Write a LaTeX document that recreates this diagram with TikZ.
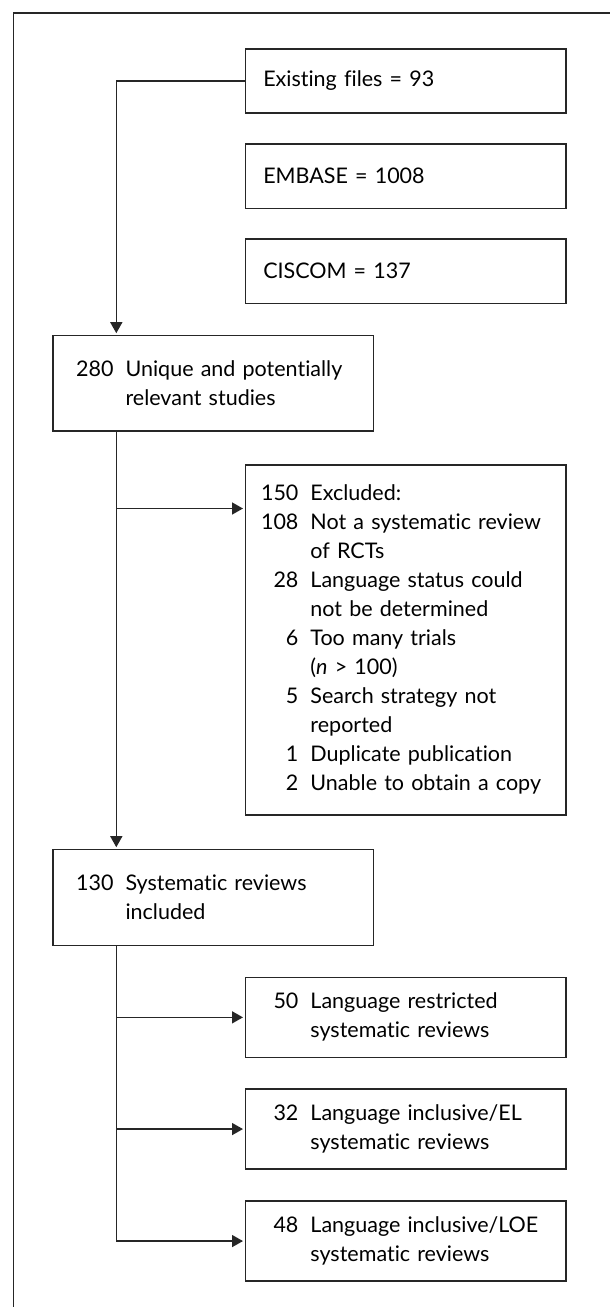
\documentclass[tikz,border=0pt]{standalone}
\usepackage{fontspec}
\setmainfont{Lato}[Ligatures={NoCommon}]
\usetikzlibrary{arrows.meta}
\newcommand\nm[2][53.2pt]{\makebox[#1][r]{#2}\hspace{12pt}}
\newcommand\ind[1][53.2pt]{\hspace*{\dimexpr#1+12pt\relax}}
\begin{document}
\begin{tikzpicture}[x=1pt,y=-1pt,
  box/.style={draw=black!85, line width=1.5pt, inner xsep=0pt, inner ysep=0pt,
    text width=320.5pt, align=left, minimum height=#1, anchor=north west,
    font=\fontsize{21.5}{29}\selectfont},
  conn/.style={draw=black!85, line width=1.5pt},
  arr/.style={conn, -{Triangle[length=11pt,width=12pt]}, shorten >=1.5pt}]
\useasboundingbox (0,0) rectangle (610,1307);
\draw[line width=1.8pt, black!85] (13.5,1307) -- (13.5,12.7) -- (610,12.7);

\node[box=64pt] (ex) at (244.5,48) {\hspace*{18pt}Existing files = 93};
\node[box=64.4pt] (em) at (244.5,143.3) {\hspace*{18pt}EMBASE = 1008};
\node[box=64.4pt] (ci) at (244.5,238.3) {\hspace*{18pt}CISCOM = 137};
\node[box=95.6pt] (u) at (52,334.7) {\nm[60.8pt]{280}Unique and potentially\\ \ind[60.8pt]relevant studies};
\node[box=350.3pt] (exc) at (244.5,464) {\nm{150}Excluded:\\ \nm{108}Not a systematic review\\ \ind of RCTs\\ \nm{28}Language status could\\ \ind not be determined\\ \nm{6}Too many trials\\ \ind (\textit{n} > 100)\\ \nm{5}Search strategy not\\ \ind reported\\ \nm{1}Duplicate publication\\ \nm{2}Unable to obtain a copy};
\node[box=96pt] (s) at (52,848.7) {\nm[60.8pt]{130}Systematic reviews\\ \ind[60.8pt]included};
\node[box=79.8pt] (r50) at (244.5,976.7) {\nm{50}Language restricted\\ \ind systematic reviews};
\node[box=80pt] (r32) at (244.5,1088.3) {\nm{32}Language inclusive/EL\\ \ind systematic reviews};
\node[box=80pt] (r48) at (244.5,1200.3) {\nm{48}Language inclusive/LOE\\ \ind systematic reviews};

\coordinate (spine) at (116.3,0);
\coordinate (b1) at (116.3,508.5);
\draw[arr] (ex.west) -| (spine |- u.north);
\draw[arr] (spine |- u.south) -- (spine |- s.north);
\draw[arr] (b1) -- (b1 -| exc.west);
\draw[arr] (spine |- s.south) |- (r48.west);
\draw[arr] (spine |- r50.west) -- (r50.west);
\draw[arr] (spine |- r32.west) -- (r32.west);
\end{tikzpicture}
\end{document}
